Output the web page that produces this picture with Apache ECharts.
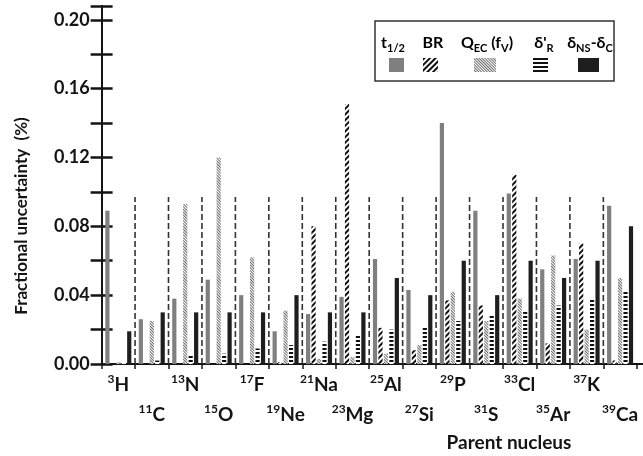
<!DOCTYPE html>
<html><head><meta charset="utf-8">
<script src="https://cdn.jsdelivr.net/npm/echarts@6/dist/echarts.min.js"></script>
<style>html,body{margin:0;padding:0;background:#fff}#c{width:643px;height:456px}</style>
</head><body><div id="c"></div>
<script>
// ---- data ----
const massNumbers = ['3','11','13','15','17','19','21','23','25','27','29','31','33','35','37','39'];
const elements    = ['H','C','N','O','F','Ne','Na','Mg','Al','Si','P','S','Cl','Ar','K','Ca'];
const categories  = massNumbers.map((m, i) => m + elements[i]);
const halfLife       = [0.089,0.026,0.038,0.049,0.040,0.019,0.029,0.039,0.061,0.043,0.140,0.089,0.099,0.055,0.061,0.092];
const branchingRatio = [0,0,0,0,0,0.001,0.080,0.151,0.021,0.008,0.037,0.034,0.110,0.012,0.070,0.002];
const qecFv          = [0.001,0.025,0.093,0.120,0.062,0.031,0.003,0.004,0.006,0.011,0.042,0.025,0.038,0.063,0.020,0.050];
const deltaR         = [0.001,0.002,0.005,0.006,0.009,0.011,0.013,0.017,0.020,0.021,0.025,0.028,0.031,0.034,0.038,0.042];
const deltaNsC       = [0.019,0.030,0.030,0.030,0.030,0.040,0.030,0.030,0.050,0.040,0.060,0.040,0.060,0.050,0.060,0.080];
const yTickLabels = ['0.00','0.04','0.08','0.12','0.16','0.20'];
const dividerHeight = 0.097;
const seriesNames = ['t1/2', 'BR', 'QEC (fV)', "δ'R", 'δNS-δC'];

// ---- styling ----
const FONT = 'Lato, "DejaVu Sans", sans-serif';
const INK = '#141414';
const decalBR  = {symbol:'rect', symbolSize:1, color:'#111', dashArrayX:[1,0], dashArrayY:[2,2], rotation:-Math.PI/4};
const decalQ   = {symbol:'rect', symbolSize:1, color:'#6a6a6a', dashArrayX:[1,0], dashArrayY:[1,1], rotation:Math.PI/4};
const decalR   = {symbol:'rect', symbolSize:1, color:'#111', dashArrayX:[1,0], dashArrayY:[2,2], rotation:0};

function bar(name, data, color, decal) {
  return {name, type:'bar', data, xAxisIndex:0, yAxisIndex:0, barWidth:4.2, barGap:'30%',
    itemStyle:{color, decal}, emphasis:{disabled:true}, silent:true};
}

const labelRich = {
  s:{fontFamily:FONT, fontSize:12, fontWeight:'bold', color:INK, verticalAlign:'top'},
  b:{fontFamily:FONT, fontSize:19, fontWeight:'bold', color:INK, lineHeight:24},
  gap:{fontSize:10, lineHeight:30}
};
const legendRich = {
  m:{fontFamily:FONT, fontSize:16, fontWeight:'bold', color:INK, lineHeight:22},
  s:{fontFamily:FONT, fontSize:11, fontWeight:'bold', color:INK, verticalAlign:'bottom'}
};
const legendLabelText = ['{m|t}{s|1/2}', '{m|BR}', '{m|Q}{s|EC}{m| (f}{s|V}{m|)}', "{m|δ'}{s|R}", '{m|δ}{s|NS}{m|-δ}{s|C}'];
const legendLabelX = [393, 433, 487, 544, 590];
const legendIconBox = [[389,15],[423,15],[474,22],[533,15],[578,21]];

const dividerData = categories.slice(0, -1).map((c, i) => [i, dividerHeight]);

const option = {
  animation:false,
  textStyle:{fontFamily:FONT},
  grid:[
    {left:101.6, top:6, width:535.2, bottom:92},
    {left:101.6, top:6, right:-1, bottom:92}
  ],
  xAxis:[
    {type:'category', gridIndex:0, data:categories,
     axisLine:{lineStyle:{color:INK, width:2}},
     axisTick:{show:true, interval:0, length:5, lineStyle:{color:INK, width:1.5}},
     axisLabel:{interval:0, margin:9, rich:labelRich,
       formatter:(v, i) => { const s = '{s|' + massNumbers[i] + '}{b|' + elements[i] + '}'; return i % 2 ? '{gap| }\n' + s : s; }},
     splitLine:{show:false}},
    {type:'value', gridIndex:1, min:0, max:1, position:'top',
     axisLine:{show:true, lineStyle:{color:INK, width:2}}, axisTick:{show:false}, axisLabel:{show:false}, splitLine:{show:false}}
  ],
  yAxis:[
    {type:'value', gridIndex:0, min:0, max:0.208, interval:0.02,
     axisLine:{show:true, lineStyle:{color:INK, width:2}},
     axisTick:{show:true, inside:true, length:11, lineStyle:{color:INK, width:2.5}},
     axisLabel:{margin:12, fontFamily:FONT, fontSize:18, fontWeight:'bold', color:INK,
       formatter:(v) => { const t = v.toFixed(2); return yTickLabels.includes(t) && Math.abs(v - parseFloat(t)) < 1e-6 ? t : ''; }},
     splitLine:{show:false}},
    {type:'value', gridIndex:1, min:0, max:0.208, interval:0.02, position:'right',
     axisLine:{show:true, lineStyle:{color:INK, width:2}},
     axisTick:{show:true, inside:true, length:11, lineStyle:{color:INK, width:2.5}},
     axisLabel:{show:false}, splitLine:{show:false}}
  ],
  legend: seriesNames.map((n, i) => ({
    data:[n], left:legendIconBox[i][0], top:58, itemWidth:legendIconBox[i][1], itemHeight:14,
    icon:'rect', padding:0, itemGap:0, selectedMode:false, formatter:() => '', textStyle:{fontSize:1}
  })),
  graphic:[
    {type:'rect', shape:{x:375, y:21, width:239, height:60}, style:{fill:'none', stroke:'#333', lineWidth:1.5}, silent:true},
    ...legendLabelText.map((t, i) => ({type:'text', x:legendLabelX[i], y:43, silent:true,
      style:{text:t, rich:legendRich, align:'center', verticalAlign:'middle'}})),
    {type:'text', x:22, y:216, rotation:Math.PI/2, silent:true,
     style:{text:'Fractional uncertainty  (%)', fontFamily:FONT, fontSize:17, fontWeight:'bold', fill:INK, align:'center', verticalAlign:'middle'}},
    {type:'text', x:509, y:443, silent:true,
     style:{text:'Parent nucleus', fontFamily:FONT, fontSize:19, fontWeight:'bold', fill:INK, align:'center', verticalAlign:'middle'}}
  ],
  series:[
    bar(seriesNames[0], halfLife, '#7f7f7f'),
    bar(seriesNames[1], branchingRatio, '#ffffff', decalBR),
    bar(seriesNames[2], qecFv, '#ffffff', decalQ),
    bar(seriesNames[3], deltaR, '#ffffff', decalR),
    bar(seriesNames[4], deltaNsC, '#1e1e1e'),
    {type:'custom', xAxisIndex:0, yAxisIndex:0, silent:true, z:1, data:dividerData,
     renderItem:(params, api) => {
       const i = api.value(0), h = api.value(1);
       const b = api.coord([i, 0]), t = api.coord([i, h]);
       const w = api.size([1, 0])[0];
       const x = b[0] + w / 2;
       return {type:'line', shape:{x1:x, y1:b[1], x2:x, y2:t[1]}, style:{stroke:'#333', lineWidth:1.6, lineDash:[6,3]}};
     }}
  ]
};
const chart = echarts.init(document.getElementById('c'), null, {renderer:'canvas'});
chart.setOption(option);
</script></body></html>
